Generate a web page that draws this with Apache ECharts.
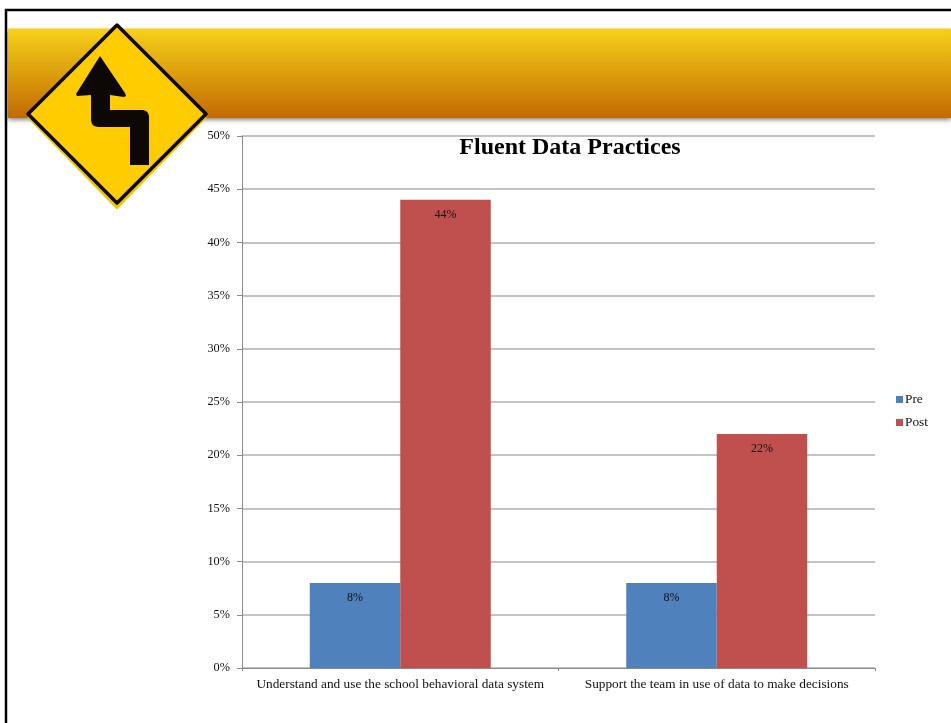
<!DOCTYPE html>
<html>
<head>
<meta charset="utf-8">
<style>html,body{margin:0;padding:0;background:#fff}#c{width:951px;height:723px}</style>
<script src="https://cdn.jsdelivr.net/npm/echarts@6/dist/echarts.min.js"></script>
</head>
<body>
<div id="c"></div>
<script>
const categories = ['Understand and use the school behavioral data system', 'Support the team in use of data to make decisions'];
const preValues = [8, 8];
const postValues = [44, 22];
const serifFont = '"Liberation Serif", "Times New Roman", serif';
const chart = echarts.init(document.getElementById('c'), null, {renderer: 'canvas'});
const pct = p => p.value + '%';
chart.setOption({
  animation: false,
  backgroundColor: '#fff',
  textStyle: {fontFamily: serifFont},
  title: {
    text: 'Fluent Data Practices', left: 565, top: 131, textAlign: 'center',
    textStyle: {fontFamily: serifFont, fontSize: 24, fontWeight: 'bold', color: '#000'}
  },
  legend: {
    orient: 'vertical', left: 896, top: 393, padding: 0, itemWidth: 7, itemHeight: 7, itemGap: 10,
    icon: 'rect', data: ['Pre', 'Post'],
    textStyle: {fontFamily: serifFont, fontSize: 13.3, color: '#111', padding: [0, 0, 0, -3]}
  },
  grid: {left: 242, right: 76, top: 136, bottom: 55},
  xAxis: {
    type: 'category', data: categories,
    axisLine: {lineStyle: {color: '#8a8a8a', width: 1}},
    axisTick: {show: true, length: 3, lineStyle: {color: '#8a8a8a'}},
    axisLabel: {fontFamily: serifFont, fontSize: 13.3, color: '#111', margin: 10, interval: 0}
  },
  yAxis: {
    type: 'value', min: 0, max: 50, interval: 5,
    axisLine: {show: true, lineStyle: {color: '#8a8a8a', width: 1}},
    axisTick: {show: true, length: 5, lineStyle: {color: '#8a8a8a'}},
    axisLabel: {fontFamily: serifFont, fontSize: 12.3, color: '#111', margin: 12, formatter: '{value}%'},
    splitLine: {lineStyle: {color: '#b0b0b0', width: 1.5}}
  },
  series: [
    {name: 'Pre', type: 'bar', data: preValues, barWidth: 90.5, barGap: '0%',
     itemStyle: {color: '#4f81bd'},
     label: {show: true, position: 'insideTop', distance: 9, formatter: pct, fontFamily: serifFont, fontSize: 12, color: '#111'}},
    {name: 'Post', type: 'bar', data: postValues, barWidth: 90.5,
     itemStyle: {color: '#c0504d'},
     label: {show: true, position: 'insideTop', distance: 9, formatter: pct, fontFamily: serifFont, fontSize: 12, color: '#111'}}
  ],
  graphic: [
    {type: 'rect', z: -10, shape: {x: 6, y: 10, width: 960, height: 730}, style: {fill: 'none', stroke: '#000', lineWidth: 2.5}},
    {type: 'rect', z: -9, shape: {x: 8, y: 28.5, width: 943, height: 89.5},
     style: {
       fill: {type: 'linear', x: 0, y: 0, x2: 0, y2: 1, colorStops: [
         {offset: 0, color: '#f6d21a'}, {offset: 0.5, color: '#dc9e0c'}, {offset: 1, color: '#c26a00'}]},
       shadowBlur: 5, shadowColor: 'rgba(0,0,0,0.55)', shadowOffsetY: 2
     }},
    {type: 'polygon', z: 5, shape: {points: [[117,30],[205,117.5],[117,207.5],[29,117.5]]}, style: {fill: '#f2c500', stroke: '#f2c500', lineWidth: 3, lineJoin: 'round'}},
    {type: 'polygon', z: 6, shape: {points: [[117,25],[206,114],[117,203],[28,114]]}, style: {fill: '#ffcc00', stroke: '#0d0805', lineWidth: 3.5, lineJoin: 'round'}},
    {type: 'polygon', z: 7,
     shape: {points: [[100,56],[76,94],[77,96],[91,95],[91,120],[92,124],[94,126],[98,127],[130,127],[130,165],[149,165],[149,116],[148,113],[146,111],[143,110],[110,110],[110,95],[124,97],[126,96],[125,93]]},
     style: {fill: '#0d0805'}}
  ]
});
</script>
</body>
</html>
